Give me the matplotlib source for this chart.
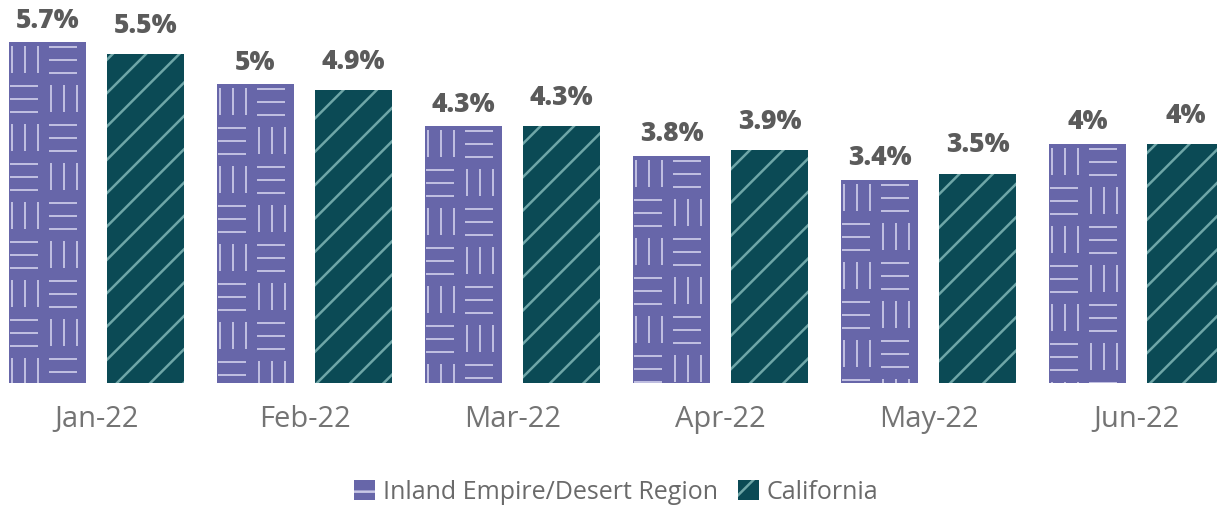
import matplotlib
matplotlib.use("Agg")
import matplotlib.pyplot as plt
import numpy as np
from matplotlib.patches import Patch
from matplotlib.collections import LineCollection

# data
months = ["Jan-22", "Feb-22", "Mar-22", "Apr-22", "May-22", "Jun-22"]
inland = [5.7, 5.0, 4.3, 3.8, 3.4, 4.0]
california = [5.5, 4.9, 4.3, 3.9, 3.5, 4.0]
inland_labels = ["5.7%", "5%", "4.3%", "3.8%", "3.4%", "4%"]
california_labels = ["5.5%", "4.9%", "4.3%", "3.9%", "3.5%", "4%"]
series_names = ["Inland Empire/Desert Region", "California"]

PURPLE = "#6766a9"
TEAL = "#0b4a55"
WEAVE = "#c9c8e6"
STRIPE = "#6fa6a8"
LABEL_GRAY = "#5b5b5b"
TICK_GRAY = "#747474"

plt.rcParams["font.family"] = ["Open Sans", "DejaVu Sans"]
plt.rcParams["hatch.linewidth"] = 1.8

W, H = 1217, 506
fig = plt.figure(figsize=(W / 100, H / 100), dpi=100)
ax = fig.add_axes([0, 122 / H, 1, 384 / H])

x = np.arange(len(months))
bw = 0.37
off = 0.2356

b1 = ax.bar(x - off, inland, bw, color=PURPLE, linewidth=0)
b2 = ax.bar(x + off, california, bw, color=TEAL, edgecolor=STRIPE,
            linewidth=0, hatch="/")

ax.set_xlim(-0.464, 5.387)
ax.set_ylim(0, 6.42)


def clip_seg(p, q, bb):
    # axis aligned segment clipped to the bar box
    (xa, ya), (xb, yb) = p, q
    xa, xb = sorted((xa, xb))
    ya, yb = sorted((ya, yb))
    xa, xb = max(xa, bb.x0), min(xb, bb.x1)
    ya, yb = max(ya, bb.y0), min(yb, bb.y1)
    if xa > xb or ya > yb:
        return None
    return [(xa, ya), (xb, yb)]


# basket weave for the purple bars: checkerboard of 3-line groups (pixel space)
fig.canvas.draw()
cell, step = 39, 13
for rect in b1:
    bb = rect.get_window_extent()
    segs = []
    nx = int(bb.width // cell) + 2
    ny = int(bb.height // cell) + 2
    for i in range(-1, nx):
        for j in range(-1, ny):
            cx = bb.x0 - 1 + i * cell
            cy = bb.y1 - j * cell
            if (i + j) % 2 == 0:
                for k in range(3):
                    xx = cx + 4 + k * step
                    s = clip_seg((xx, cy - 4), (xx, cy - 31), bb)
                    if s:
                        segs.append(s)
            else:
                for k in range(3):
                    yy = cy - 5 - k * step
                    s = clip_seg((cx + 2, yy), (cx + 30, yy), bb)
                    if s:
                        segs.append(s)
    lc = LineCollection(segs, colors=WEAVE, linewidths=1.3, transform=None)
    ax.add_collection(lc, autolim=False)

for rect, lab in zip(b1, inland_labels):
    ax.annotate(lab, (rect.get_x() + rect.get_width() / 2, rect.get_height()),
                xytext=(0, 11), textcoords="offset points", ha="center",
                va="baseline", fontsize=19, fontweight=800, color=LABEL_GRAY)
for rect, lab in zip(b2, california_labels):
    ax.annotate(lab, (rect.get_x() + rect.get_width() / 2, rect.get_height()),
                xytext=(0, 16), textcoords="offset points", ha="center",
                va="baseline", fontsize=19, fontweight=800, color=LABEL_GRAY)

ax.set_xticks(x)
ax.set_xticklabels(months, fontsize=21, color=TICK_GRAY)
ax.tick_params(axis="x", length=0, pad=15)
ax.set_yticks([])
for s in ax.spines.values():
    s.set_visible(False)

handles = [Patch(facecolor=PURPLE, edgecolor=WEAVE, linewidth=0, hatch="-"),
           Patch(facecolor=TEAL, edgecolor=STRIPE, linewidth=0, hatch="/")]
fig.legend(handles, series_names, loc="center", bbox_to_anchor=(616 / W, 1 - 493 / H),
           ncol=2, frameon=False, fontsize=18, labelcolor="#6a6a6a",
           handlelength=0.85, handleheight=0.85, handletextpad=0.3, columnspacing=0.8)

fig.savefig("out.png", dpi=100)
